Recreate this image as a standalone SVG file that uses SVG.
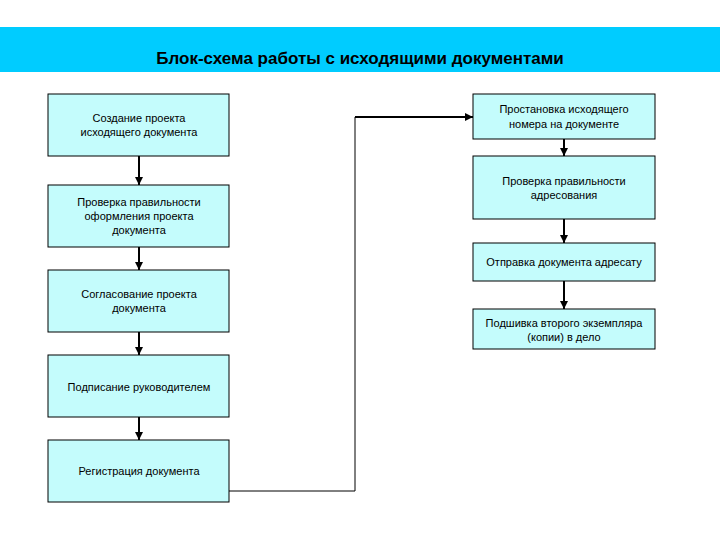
<svg xmlns="http://www.w3.org/2000/svg" width="720" height="540" viewBox="0 0 720 540">
<defs>
<style>
.b{fill:#C4FCFC;stroke:#000;stroke-width:1}
.t{font-family:"Liberation Sans",Arial,sans-serif;font-size:11px;fill:#000;text-anchor:middle}
.c{stroke:#000;stroke-width:2;fill:none}
</style>
<marker id="a" viewBox="0 0 10 10" refX="10" refY="5" markerWidth="4" markerHeight="4" orient="auto"><path d="M0,0L10,5L0,10z" fill="#000"/></marker>
</defs>
<rect width="720" height="540" fill="#fff"/>
<rect x="0" y="27" width="720" height="45" fill="#00CCFF"/>
<text x="360" y="64" style="font-family:'Liberation Sans',Arial,sans-serif;font-size:17px;font-weight:bold;text-anchor:middle">Блок-схема работы с исходящими документами</text>
<g id="n1"><rect class="b" x="48" y="94" width="181" height="62"/><text class="t" x="139" y="122">Создание проекта</text><text class="t" x="139" y="136">исходящего документа</text></g>
<g id="n2"><rect class="b" x="48" y="185" width="181" height="62"/><text class="t" x="139" y="206">Проверка правильности</text><text class="t" x="139" y="220">оформления проекта</text><text class="t" x="139" y="234">документа</text></g>
<g id="n3"><rect class="b" x="48" y="270" width="181" height="62"/><text class="t" x="139" y="298">Согласование проекта</text><text class="t" x="139" y="312">документа</text></g>
<g id="n4"><rect class="b" x="48" y="355" width="181" height="62"/><text class="t" x="139" y="391">Подписание руководителем</text></g>
<g id="n5"><rect class="b" x="48" y="440" width="181" height="62"/><text class="t" x="139" y="475">Регистрация документа</text></g>
<g id="r1"><rect class="b" x="473" y="94" width="182" height="45"/><text class="t" x="564" y="113">Простановка исходящего</text><text class="t" x="564" y="128">номера на документе</text></g>
<g id="r2"><rect class="b" x="473" y="156" width="182" height="63"/><text class="t" x="564" y="185">Проверка правильности</text><text class="t" x="564" y="199">адресования</text></g>
<g id="r3"><rect class="b" x="473" y="243" width="182" height="38"/><text class="t" x="564" y="266">Отправка документа адресату</text></g>
<g id="r4"><rect class="b" x="473" y="309" width="182" height="40"/><text class="t" x="564" y="327">Подшивка второго экземпляра</text><text class="t" x="564" y="341">(копии) в дело</text></g>
<g id="connectors">
<path class="c" d="M139,156V185" marker-end="url(#a)"/>
<path class="c" d="M139,247V270" marker-end="url(#a)"/>
<path class="c" d="M139,332V355" marker-end="url(#a)"/>
<path class="c" d="M139,417V440" marker-end="url(#a)"/>
<path class="c" d="M564,139V156" marker-end="url(#a)"/>
<path class="c" d="M564,219V243" marker-end="url(#a)"/>
<path class="c" d="M564,281V309" marker-end="url(#a)"/>
<path d="M229,491H355V117" stroke="#000" stroke-width="1" fill="none"/>
<path class="c" d="M355,117H473" marker-end="url(#a)"/>
</g>
</svg>
